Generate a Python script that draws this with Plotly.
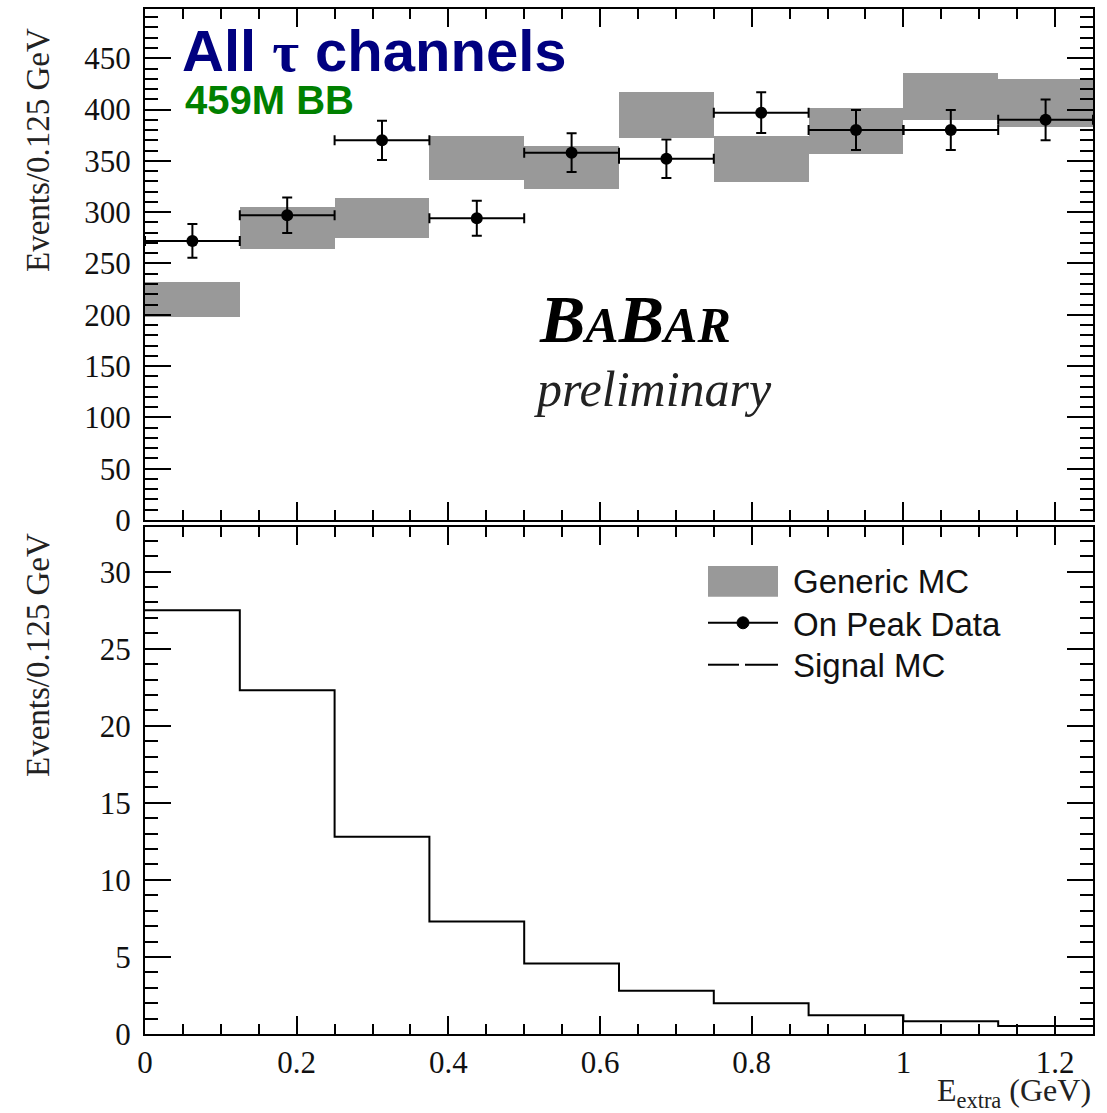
import plotly.graph_objects as go

# ---------------- data ----------------
bin_width = 0.125
bin_edges = [0.0, 0.125, 0.25, 0.375, 0.5, 0.625, 0.75, 0.875, 1.0, 1.125, 1.25]
bin_centers = [0.0625, 0.1875, 0.3125, 0.4375, 0.5625, 0.6875, 0.8125, 0.9375, 1.0625, 1.1875]

data_counts = [272, 297, 370, 294, 358, 352, 397, 380, 380, 390]
data_err = [16.5, 17.2, 19.2, 17.1, 18.9, 18.8, 19.9, 19.5, 19.5, 19.8]

mc_low = [198, 264.5, 275, 331, 322.5, 372, 329, 357, 389.5, 383]
mc_high = [231.5, 305, 313.5, 374, 364.5, 417, 374, 401.5, 436, 430]

signal_mc = [27.5, 22.3, 12.8, 7.3, 4.58, 2.8, 2.0, 1.21, 0.82, 0.52]

top_y_ticks = [0, 50, 100, 150, 200, 250, 300, 350, 400, 450]
bot_y_ticks = [0, 5, 10, 15, 20, 25, 30]
x_ticks = [0, 0.2, 0.4, 0.6, 0.8, 1.0, 1.2]
x_tick_text = ["0", "0.2", "0.4", "0.6", "0.8", "1", "1.2"]

# ---------------- geometry helpers ----------------
W, H = 1107, 1113
L, R, T, B = 145, 14, 7, 79
PW, PH = W - L - R, H - T - B


def px(x):
    return (x - L) / PW


def py(y):
    return (H - B - y) / PH


fig = go.Figure()

# Generic MC band (top)
fig.add_trace(go.Bar(
    x=bin_centers,
    y=[h - l for h, l in zip(mc_high, mc_low)],
    base=mc_low,
    width=bin_width,
    marker=dict(color="#999999", line=dict(width=0)),
    xaxis="x", yaxis="y", showlegend=False,
))

# On peak data (top)
fig.add_trace(go.Scatter(
    x=bin_centers, y=data_counts, mode="markers",
    marker=dict(color="black", size=12),
    error_y=dict(type="data", array=data_err, color="black", thickness=2, width=5),
    error_x=dict(type="constant", value=bin_width / 2, color="black", thickness=2, width=5),
    xaxis="x", yaxis="y", showlegend=False,
))

# Signal MC step histogram (bottom)
fig.add_trace(go.Scatter(
    x=bin_edges, y=signal_mc + [signal_mc[-1]],
    mode="lines", line=dict(color="black", width=2, shape="hv"),
    xaxis="x2", yaxis="y2", showlegend=False,
))

tickfont = dict(family="Liberation Serif", size=31, color="#111")
common_x = dict(range=[0, 1.25], tickmode="array", tickvals=x_ticks, ticktext=x_tick_text,
                ticks="inside", ticklen=18, tickwidth=2, tickcolor="black",
                minor=dict(dtick=0.05, tick0=0, ticks="inside", ticklen=10, tickwidth=2, tickcolor="black"),
                showline=True, linewidth=2, linecolor="black", mirror="ticks",
                showgrid=False, zeroline=False, tickfont=tickfont)

fig.update_layout(
    width=W, height=H,
    margin=dict(l=L, r=R, t=T, b=B),
    paper_bgcolor="white", plot_bgcolor="white",
    bargap=0,
    xaxis=dict(domain=[0, 1], anchor="y", showticklabels=False, **common_x),
    xaxis2=dict(domain=[0, 1], anchor="y2", showticklabels=True, **common_x),
    yaxis=dict(domain=[py(519), 1], range=[0, 498], tickmode="array", tickvals=top_y_ticks,
               ticks="inside", ticklen=26, tickwidth=2, tickcolor="black",
               minor=dict(dtick=10, tick0=0, ticks="inside", ticklen=13, tickwidth=2, tickcolor="black"),
               showline=True, linewidth=2, linecolor="black", mirror="ticks",
               showgrid=False, zeroline=False, tickfont=tickfont, ticklabelstandoff=6),
    yaxis2=dict(domain=[0, py(526)], range=[0, 32.9], tickmode="array", tickvals=bot_y_ticks,
                ticks="inside", ticklen=26, tickwidth=2, tickcolor="black",
                minor=dict(dtick=1, tick0=0, ticks="inside", ticklen=13, tickwidth=2, tickcolor="black"),
                showline=True, linewidth=2, linecolor="black", mirror="ticks",
                showgrid=False, zeroline=False, tickfont=tickfont, ticklabelstandoff=6),
)

ann = []
# y-axis titles
for ytop in (24, 530):
    ann.append(dict(text="Events/0.125 GeV", x=px(38), y=py(ytop), xref="paper", yref="paper",
                    xanchor="center", yanchor="top", textangle=-90, showarrow=False,
                    font=dict(family="Liberation Serif", size=33, color="#222")))
# x-axis title
ann.append(dict(text="E<sub>extra</sub> (GeV)", x=px(1093), y=py(1115),
                xref="paper", yref="paper", xanchor="right", yanchor="bottom", showarrow=False,
                font=dict(family="Liberation Serif", size=32, color="#222")))
# Title texts
ann.append(dict(text="<b>All <span style='font-family:Liberation Serif'>τ</span> channels</b>",
                x=px(180), y=py(49), xref="paper", yref="paper", xanchor="left", yanchor="middle",
                showarrow=False, font=dict(family="Liberation Sans", size=58, color="#000080")))
ann.append(dict(text="<b>459M BB</b>", x=px(183), y=py(98), xref="paper", yref="paper",
                xanchor="left", yanchor="middle", showarrow=False,
                font=dict(family="Liberation Sans", size=40, color="#008000")))
# BaBar logo
ann.append(dict(text="<b><i>B<span style='font-size:50px'>A</span>B<span style='font-size:50px'>AR</span></i></b>",
                x=px(635), y=py(318), xref="paper", yref="paper", xanchor="center", yanchor="middle",
                showarrow=False, font=dict(family="Liberation Serif", size=68, color="black")))
ann.append(dict(text="<i>preliminary</i>", x=px(653), y=py(388), xref="paper", yref="paper",
                xanchor="center", yanchor="middle", showarrow=False,
                font=dict(family="Liberation Serif", size=50, color="#222")))

# Legend texts
leg_font = dict(family="Liberation Sans", size=33, color="#111")
for label, yc in (("Generic MC", 581), ("On Peak Data", 624), ("Signal MC", 665)):
    ann.append(dict(text=label, x=px(791), y=py(yc), xref="paper", yref="paper",
                    xanchor="left", yanchor="middle", showarrow=False, font=leg_font))

shapes = [
    dict(type="rect", xref="paper", yref="paper", x0=px(708), x1=px(778), y0=py(596), y1=py(565),
         fillcolor="#999999", line=dict(width=0)),
    dict(type="line", xref="paper", yref="paper", x0=px(708), x1=px(778), y0=py(622), y1=py(622),
         line=dict(color="black", width=2)),
    dict(type="circle", xref="paper", yref="paper", x0=px(737), x1=px(749), y0=py(628), y1=py(616),
         fillcolor="black", line=dict(color="black", width=1)),
    dict(type="line", xref="paper", yref="paper", x0=px(708), x1=px(739), y0=py(664), y1=py(664),
         line=dict(color="black", width=2)),
    dict(type="line", xref="paper", yref="paper", x0=px(745), x1=px(778), y0=py(664), y1=py(664),
         line=dict(color="black", width=2)),
]

fig.update_layout(annotations=ann, shapes=shapes)
fig.write_html("out.html")
